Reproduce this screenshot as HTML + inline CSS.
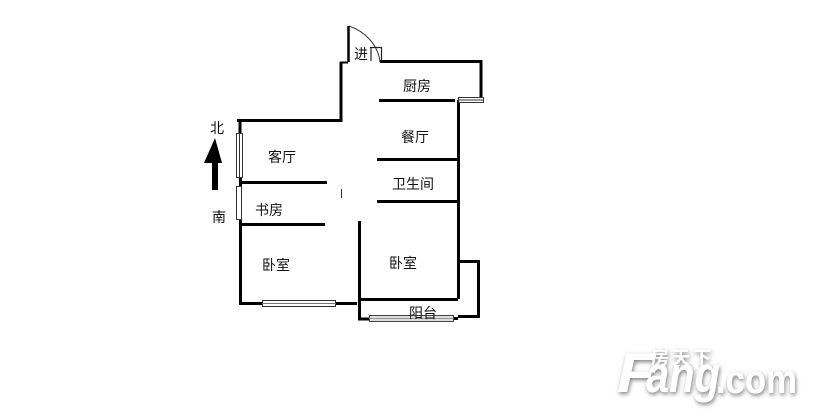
<!DOCTYPE html>
<html><head><meta charset="utf-8"><style>
html,body{margin:0;padding:0;background:#fff}
svg{display:block}
.t{font-family:"Liberation Sans","Noto Sans CJK SC",sans-serif;font-size:14px;fill:#111}
</style></head><body>
<svg width="814" height="419" viewBox="0 0 814 419" xmlns="http://www.w3.org/2000/svg">
<defs><filter id="b" x="-10%" y="-20%" width="120%" height="140%"><feDropShadow dx="1" dy="2" stdDeviation="2.200" flood-color="#666" flood-opacity=".85"/></filter></defs>
<g stroke="#000" stroke-width="3" fill="none">
<path d="M237 120.500H341V62"/>
<path d="M240 120V133"/>
<path d="M340 62.500H348" stroke-width="2"/>
<path d="M348.500 62V26" stroke-width="2.500"/>
<path d="M380 61.500H481V98"/>
<path d="M379 100.500H455"/>
<path d="M458.500 100V299"/>
<path d="M377 159.500H458"/>
<path d="M377 201.500H458"/>
<path d="M240 182.500H327"/>
<path d="M240 224.500H325"/>
<path d="M240.500 177V186M240.500 220V305"/>
<path d="M240 303.500H262M336 303.500H357"/>
<path d="M359.500 221V319H369"/>
<path d="M359 299.500H458"/>
<path d="M457 261.500H478.500V316.500H458"/>
<path d="M453 318.500H458"/>
</g>
<path d="M341.500 189V198" stroke="#333" stroke-width="1"/>
<path d="M349 26C364 31 378 44 380 62" stroke="#333" stroke-width="1" fill="none"/>
<path d="M370 47.500H381.500V61M371 47V61" stroke="#222" stroke-width="1.200" fill="none"/>
<g stroke="#333" stroke-width="1" fill="#fff">
<rect x="236.500" y="133.500" width="6" height="44"/>
<path d="M239.500 133V177" fill="none"/>
<rect x="236.500" y="186.500" width="5" height="33"/>
<rect x="262.500" y="300.500" width="73" height="6"/>
<path d="M262 303.500H336" fill="none" stroke="#777"/>
<rect x="458.500" y="97.500" width="25" height="5"/>
<path d="M458 100H483" fill="none"/>
</g>
<rect x="369.500" y="315.500" width="84" height="6" fill="#ddd" stroke="#444"/>
<path d="M369 318.500H453" stroke="#999" stroke-width="1"/>
<path d="M215 138L222 163H218V190H212V163H204Z" fill="#000"/>
<g class="t">
<text x="210" y="133" class="t">北</text>
<text x="212" y="222" class="t">南</text>
<text x="354" y="59" class="t">进</text>
<text x="403" y="91" class="t">厨房</text>
<text x="401" y="142" class="t">餐厅</text>
<text x="268" y="162" class="t">客厅</text>
<text x="392" y="189" class="t">卫生间</text>
<text x="255" y="215" class="t">书房</text>
<text x="262" y="270" class="t">卧室</text>
<text x="389" y="268" class="t">卧室</text>
<text x="409" y="318" class="t">阳台</text>
</g>
<g filter="url(#b)" fill="#fff" font-family="Liberation Sans,sans-serif" font-weight="bold">
<text x="617" y="392" font-size="56" font-style="italic" textLength="38" lengthAdjust="spacingAndGlyphs">F</text>
<text x="646" y="392" font-size="51" font-style="italic" textLength="74" lengthAdjust="spacingAndGlyphs">ang</text>
<text x="716" y="393" font-size="40" textLength="81" lengthAdjust="spacingAndGlyphs">.com</text>
<text x="651" y="364" font-size="18" font-family="Liberation Sans,Noto Sans CJK SC,sans-serif" textLength="60">房天下</text>
</g>
</svg>
</body></html>
